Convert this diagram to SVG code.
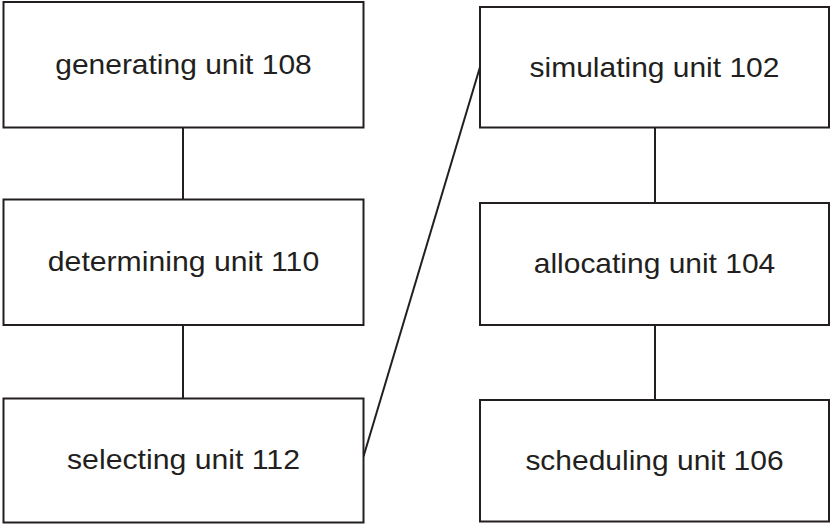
<svg xmlns="http://www.w3.org/2000/svg" width="830" height="525" viewBox="0 0 830 525">
<style>
.box{fill:#fff;stroke:#231f20;stroke-width:2}
.lbl{font-family:"Liberation Sans",Arial,sans-serif;font-size:28px;fill:#231f20;text-anchor:middle}
.conn line{stroke:#231f20;stroke-width:2;fill:none}
</style>
<rect width="830" height="525" fill="#fff"/>
<g id="connectors" class="conn">
<line x1="183" y1="127.5" x2="183" y2="199.5"/>
<line x1="183" y1="325" x2="183" y2="398.5"/>
<line x1="655" y1="127.5" x2="655" y2="203"/>
<line x1="655" y1="325" x2="655" y2="400"/>
<line x1="363.5" y1="456.5" x2="480" y2="67"/>
</g>
<g id="generating-unit-108">
<rect class="box" x="3.5" y="2" width="360" height="125.5"/>
<text class="lbl" x="183.5" y="74" textLength="256.5" lengthAdjust="spacingAndGlyphs">generating unit 108</text>
</g>
<g id="determining-unit-110">
<rect class="box" x="3.5" y="199.5" width="360" height="125.5"/>
<text class="lbl" x="183.5" y="270.7" textLength="271.4" lengthAdjust="spacingAndGlyphs">determining unit 110</text>
</g>
<g id="selecting-unit-112">
<rect class="box" x="3.5" y="398.5" width="360" height="124"/>
<text class="lbl" x="183.5" y="469.3" textLength="233" lengthAdjust="spacingAndGlyphs">selecting unit 112</text>
</g>
<g id="simulating-unit-102">
<rect class="box" x="480" y="7" width="349" height="120.5"/>
<text class="lbl" x="654.5" y="76.7" textLength="249.8" lengthAdjust="spacingAndGlyphs">simulating unit 102</text>
</g>
<g id="allocating-unit-104">
<rect class="box" x="480" y="203" width="349" height="122"/>
<text class="lbl" x="654.5" y="273" textLength="241.5" lengthAdjust="spacingAndGlyphs">allocating unit 104</text>
</g>
<g id="scheduling-unit-106">
<rect class="box" x="480" y="400" width="349" height="121.5"/>
<text class="lbl" x="654.5" y="470" textLength="258.2" lengthAdjust="spacingAndGlyphs">scheduling unit 106</text>
</g>
</svg>
